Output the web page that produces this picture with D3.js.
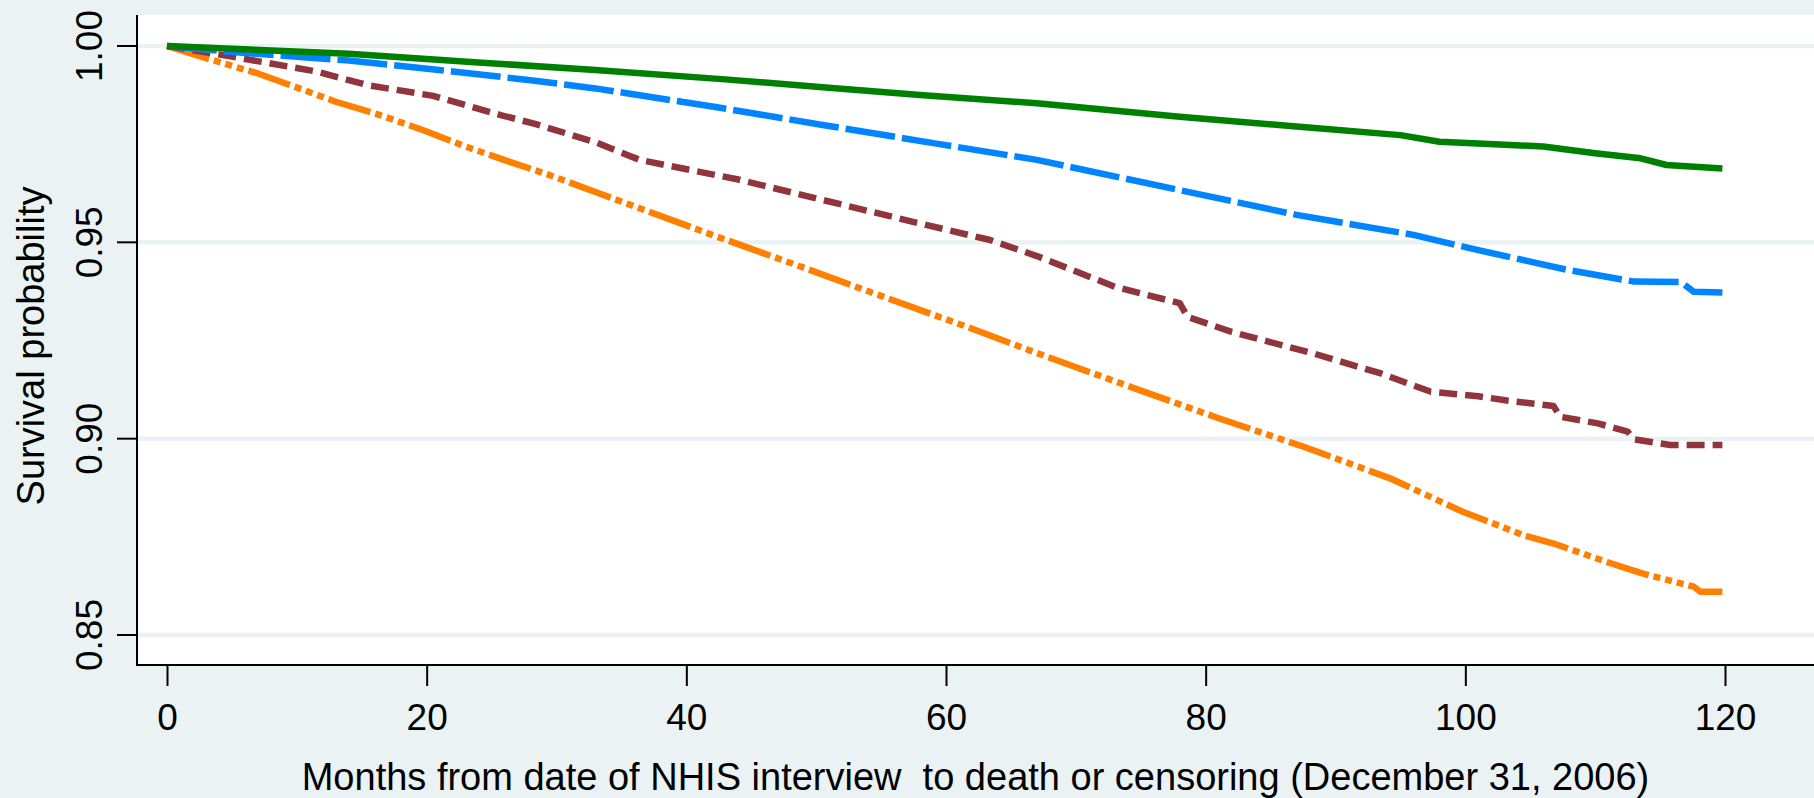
<!DOCTYPE html>
<html>
<head>
<meta charset="utf-8">
<script src="https://cdn.jsdelivr.net/npm/d3@7"></script>
<style>
  body { margin: 0; background: #EAF2F3; }
  svg { display: block; }
  text { font-family: "Liberation Sans", Arial, sans-serif; fill: #000; }
</style>
</head>
<body>
<svg id="km_svg"></svg>
<script>
// months and survival probabilities
var greenMonths = [0, 5, 14, 24, 33, 43, 50.5, 58, 67, 78, 87, 95, 98, 101, 106, 110, 113.5, 115.5, 119.8];
var greenSurv   = [1.0, 0.9993, 0.998, 0.9958, 0.9939, 0.9915, 0.9895, 0.9875, 0.9854, 0.982, 0.9795, 0.9773, 0.9756, 0.9752, 0.9744, 0.9727, 0.9714, 0.9697, 0.9688];

var blueMonths = [0, 4.6, 14, 22, 28, 33, 42, 50.5, 59.5, 67, 78, 87, 96, 101, 108, 113, 116.6, 117.6, 119.8];
var blueSurv   = [1.0, 0.9986, 0.9963, 0.9935, 0.9913, 0.9892, 0.9846, 0.9799, 0.975, 0.971, 0.9633, 0.957, 0.9519, 0.948, 0.9429, 0.940, 0.9399, 0.9374, 0.9372];

var maroonMonths = [0, 5, 11.5, 15.5, 20.5, 25.7, 28.2, 33, 36.4, 44, 50.5, 58, 63.4, 67, 73, 78, 78.6, 82, 88.3, 93.5, 97.3, 101, 103.2, 106.8, 107.3, 110.2, 112.5, 113, 115.8, 119.8];
var maroonSurv   = [1.0, 0.9973, 0.9935, 0.990, 0.9873, 0.9824, 0.9803, 0.9755, 0.971, 0.966, 0.9608, 0.9548, 0.9506, 0.9465, 0.9387, 0.9345, 0.931, 0.9272, 0.9217, 0.9166, 0.912, 0.9108, 0.9097, 0.9083, 0.9056, 0.9039, 0.9018, 0.8998, 0.8984, 0.8984];

var orangeMonths = [0, 3, 7, 9.7, 13, 16.6, 19.7, 23, 26.4, 29.5, 33, 42.4, 48.5, 55.2, 61.6, 67, 74.2, 81, 87.5, 94.2, 99.8, 104.5, 106.8, 110.9, 113.5, 117.6, 118.1, 119.8];
var orangeSurv   = [1.0, 0.9969, 0.993, 0.9898, 0.9858, 0.9822, 0.9786, 0.9744, 0.9705, 0.9671, 0.9628, 0.9514, 0.9442, 0.9361, 0.9285, 0.9218, 0.9132, 0.9052, 0.898, 0.8899, 0.8814, 0.8754, 0.8733, 0.8686, 0.8658, 0.8623, 0.861, 0.861];

var xTicks = [0, 20, 40, 60, 80, 100, 120];
var yTicks = [0.85, 0.90, 0.95, 1.00];

var xTitle = "Months from date of NHIS interview  to death or censoring (December 31, 2006)";
var yTitle = "Survival probability";

const width = 1814, height = 798;

var svg = d3.select("#km_svg")
    .attr("width", width)
    .attr("height", height);

// plot region
var plotLeft = 137, plotRight = 1814, plotTop = 15, plotBottom = 665;

var x = d3.scaleLinear().domain([0, 120]).range([167, 1725]);
var y = d3.scaleLinear().domain([0.85, 1.0]).range([635, 46]);

svg.append("rect")
    .attr("x", plotLeft)
    .attr("y", plotTop)
    .attr("width", plotRight - plotLeft)
    .attr("height", plotBottom - plotTop)
    .attr("fill", "#fff");

// grid lines
svg.append("g")
    .selectAll("line")
    .data(yTicks)
    .join("line")
    .attr("x1", plotLeft)
    .attr("x2", plotRight)
    .attr("y1", d => y(d))
    .attr("y2", d => y(d))
    .attr("stroke", "#EAF2F3")
    .attr("stroke-width", 4.5);

// curves, drawn bottom one first
var series = [
    { months: orangeMonths, surv: orangeSurv, color: "#FF8000", dash: "44,5,7,5,7,5,7,5" },
    { months: maroonMonths, surv: maroonSurv, color: "#90353B", dash: "18,8" },
    { months: blueMonths, surv: blueSurv, color: "#0085FF", dash: "50,7" },
    { months: greenMonths, surv: greenSurv, color: "#008000", dash: null }
];

var line = d3.line()
    .x(d => x(d[0]))
    .y(d => y(d[1]));

var curves = svg.append("g");
series.forEach(function (s) {
    var pts = s.months.map((m, i) => [m, s.surv[i]]);
    curves.append("path")
        .datum(pts)
        .attr("d", line)
        .attr("fill", "none")
        .attr("stroke", s.color)
        .attr("stroke-width", 6.5)
        .attr("stroke-linejoin", "round")
        .attr("stroke-dasharray", s.dash);
});

// axes
var xAxis = d3.axisBottom(x)
    .tickValues(xTicks)
    .tickFormat(d3.format("d"))
    .tickSize(21)
    .tickPadding(10);

var gx = svg.append("g")
    .attr("transform", `translate(0,${plotBottom})`)
    .call(xAxis);
gx.select(".domain").remove();
gx.selectAll(".tick line").attr("stroke-width", 2);
gx.selectAll(".tick text")
    .attr("font-size", "37px")
    .attr("y", 65)
    .attr("dy", null);

svg.append("line")
    .attr("x1", plotLeft)
    .attr("x2", plotRight)
    .attr("y1", plotBottom)
    .attr("y2", plotBottom)
    .attr("stroke", "#000")
    .attr("stroke-width", 2);

var gy = svg.append("g");
gy.selectAll("line")
    .data(yTicks)
    .join("line")
    .attr("x1", 117)
    .attr("x2", plotLeft)
    .attr("y1", d => y(d))
    .attr("y2", d => y(d))
    .attr("stroke", "#000")
    .attr("stroke-width", 2);

gy.selectAll("text")
    .data(yTicks)
    .join("text")
    .attr("transform", d => `translate(102,${y(d)}) rotate(-90)`)
    .attr("text-anchor", "middle")
    .attr("font-size", "37px")
    .text(d => d3.format(".2f")(d));

svg.append("line")
    .attr("x1", plotLeft)
    .attr("x2", plotLeft)
    .attr("y1", plotTop)
    .attr("y2", plotBottom + 1)
    .attr("stroke", "#000")
    .attr("stroke-width", 2);

// titles
svg.append("text")
    .attr("x", (plotLeft + plotRight) / 2)
    .attr("y", 790)
    .attr("text-anchor", "middle")
    .attr("font-size", "38px")
    .attr("xml:space", "preserve")
    .style("white-space", "pre")
    .text(xTitle);

svg.append("text")
    .attr("transform", `translate(44,${(plotTop + plotBottom) / 2 + 6}) rotate(-90)`)
    .attr("text-anchor", "middle")
    .attr("font-size", "38px")
    .text(yTitle);
</script>
</body>
</html>
